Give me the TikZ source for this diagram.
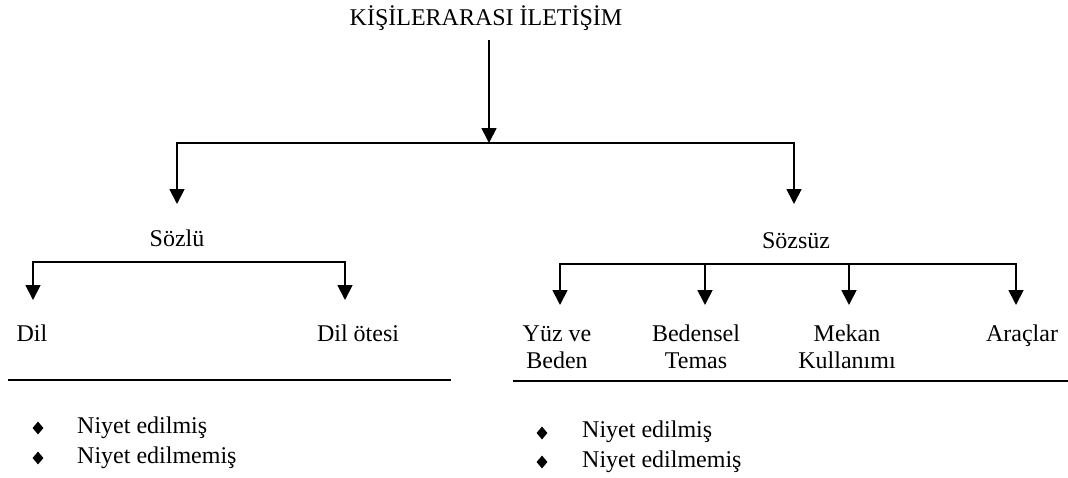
\documentclass[tikz,border=0pt]{standalone}
\usepackage{fontspec}
\setmainfont{Liberation Serif}
\usetikzlibrary{arrows.meta, shapes.geometric}
\newcommand{\treeArrow}{{Triangle[width=15pt,length=15pt]}}

\begin{document}
\begin{tikzpicture}[x=1pt, y=-1pt, font=\fontsize{24}{27}\selectfont,
	lbl/.style={inner sep=0pt, anchor=base},
	itembullet/.style={diamond, fill=black, inner sep=0pt, minimum width=11pt, minimum height=13pt},
	rule/.style={line width=1.8pt},
	fork/.style={line width=1.8pt, -\treeArrow},
	bracket/.style={line width=1.8pt, \treeArrow-\treeArrow}]
	\useasboundingbox (0,0) rectangle (1068,477);

	\node[lbl] (root) at (486,25) {KİŞİLERARASI İLETİŞİM};
	\coordinate (rootstart) at (489,40);
	\coordinate (rootfork) at (489,143);
	\coordinate (sozlutip) at (177,204);
	\coordinate (sozsuztip) at (794,204);

	\draw[fork] (rootstart) -- (rootfork);
	\draw[bracket] (sozlutip) -- (sozlutip |- rootfork) -- (sozsuztip |- rootfork) -- (sozsuztip);

	\node[lbl] (sozlu) at (177,246) {Sözlü};
	\node[lbl] (sozsuz) at (796,248) {Sözsüz};

	\coordinate (dilfork) at (0,262);
	\coordinate (diltip) at (33,300);
	\coordinate (otetip) at (345,300);
	\draw[bracket] (diltip) -- (diltip |- dilfork) -- (otetip |- dilfork) -- (otetip);

	\coordinate (ssfork) at (0,264);
	\coordinate (ssA) at (560,305);
	\coordinate (ssB) at (705,305);
	\coordinate (ssC) at (849,305);
	\coordinate (ssD) at (1016,305);
	\draw[bracket] (ssA) -- (ssA |- ssfork) -- (ssD |- ssfork) -- (ssD);
	\foreach \t in {ssB, ssC}
		\draw[fork] (\t |- ssfork) -- (\t);

	\node[lbl] (dil) at (32,341) {Dil};
	\node[lbl] (dilotesi) at (358,341) {Dil ötesi};
	\node[lbl, align=center] (yuz) at (557,368) {Yüz ve\\Beden};
	\node[lbl, align=center] (bedensel) at (696,368) {Bedensel\\Temas};
	\node[lbl, align=center] (mekan) at (847,368) {Mekan\\Kullanımı};
	\node[lbl] (araclar) at (1022,341) {Araçlar};

	\draw[rule] (8,380) -- (451,380);
	\draw[rule] (513,381) -- (1068,381);

	\foreach \txt [count=\i] in {Niyet edilmiş, Niyet edilmemiş} {
		\node[itembullet] (lbul\i) at (38,{428+30*(\i-1)}) {};
		\node[lbl, anchor=base west] (litem\i) at (77,{433+30*(\i-1)}) {\txt};
		\node[itembullet] (rbul\i) at (542,{433+29*(\i-1)}) {};
		\node[lbl, anchor=base west] (ritem\i) at (582,{437+30*(\i-1)}) {\txt};
	}
\end{tikzpicture}
\end{document}
